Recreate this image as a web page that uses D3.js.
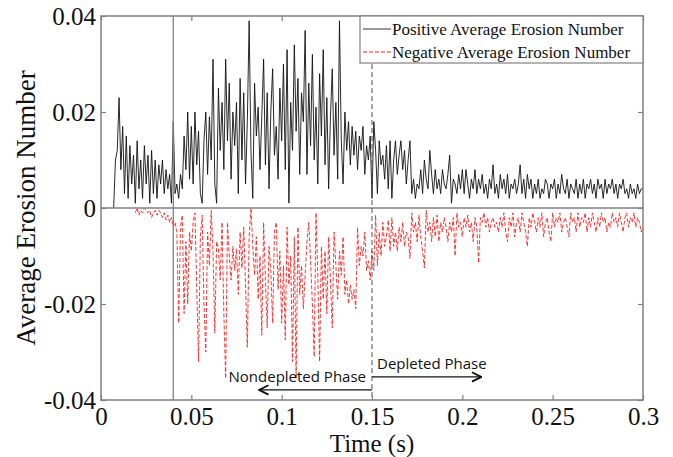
<!DOCTYPE html>
<html>
<head>
<meta charset="utf-8">
<script src="https://cdn.jsdelivr.net/npm/d3@7"></script>
<style>
  body { margin: 0; background: #fff; }
  .serif { font-family: "Liberation Serif", "Times New Roman", Times, serif; }
  .sans { font-family: "Open Sans", "Noto Sans", sans-serif; }
</style>
</head>
<body>
<div id="chart"></div>
<script>
"use strict";

// == DATA (values in units of 0.001, one sample every 0.001 s) ==
var sampleStep = 0.001;
var posStart = 0.007;
var posValues = [
  0, 10, 12, 23, 8, 17, 3, 15, 2, 13,
  5, 11, 1, 14, 4, 10, 2, 13, 5, 11,
  1, 12, 3, 10, 2, 9, 5, 10, 3, 8,
  4, 7, 1, 18, 3, 5, 2, 7, 4, 15,
  8, 20, 6, 17, 5, 20, 9, 16, 3, 1,
  14, 20, 7, 19, 10, 31, 5, 1, 25, 12,
  22, 8, 31, 14, 26, 6, 20, 13, 22, 3,
  27, 10, 24, 5, 18, 39, 12, 2, 26, 15,
  21, 8, 19, 31, 9, 24, 4, 20, 29, 11,
  17, 6, 25, 14, 30, 8, 33, 1, 22, 12,
  34, 16, 27, 7, 24, 18, 37, 7, 26, 13,
  32, 10, 21, 5, 28, 15, 33, 9, 23, 4,
  19, 29, 11, 22, 6, 39, 14, 5, 20, 12,
  18, 9, 17, 11, 16, 8, 15, 12, 17, 7,
  13, 10, 15, 2, 18, 12, 3, 14, 9, 11,
  6, 13, 4, 14, 2, 10, 14, 7, 11, 14,
  8, 12, 5, 10, 14, 3, 6, 2, 5, 4,
  8, 3, 10, 6, 4, 12, 7, 3, 8, 4,
  6, 3, 8, 5, 4, 7, 11, 1, 6, 5,
  3, 7, 4, 8, 3, 8, 5, 2, 6, 4,
  8, 3, 6, 4, 7, 3, 5, 2, 6, 4,
  9, 3, 5, 2, 7, 4, 6, 3, 7, 2,
  5, 4, 6, 3, 5, 9, 3, 6, 2, 7,
  4, 6, 2, 5, 3, 6, 2, 4, 3, 6,
  5, 2, 5, 4, 6, 2, 5, 3, 7, 4,
  3, 6, 2, 5, 4, 3, 6, 2, 5, 3,
  6, 2, 5, 4, 6, 3, 5, 2, 6, 4,
  5, 2, 6, 3, 5, 4, 6, 3, 5, 2,
  5, 4, 6, 3, 4, 2, 5, 3, 4, 2,
  5, 3, 4, 4
];

var negStart = 0.019;
var negValues = [
  -1, 0, -1.5, -0.5, -1, 0, -0.5, -1, -0.5, -2,
  -1, -0.5, -1.5, -0.5, -1, -2, -1, -2.5, -1.5, -3,
  -2, -4, -3, -5, -24, -4, -1.5, -22, -7, -20,
  -5, -9, -3, -1, -17, -32, -6, -1.5, -20, -30,
  -5, -12, -0.5, -9, -26, -7, -8.5, -15, -3, -22,
  -35.5, -3, -10, -15, -8, -13, -8.5, -18, -5, -12.5,
  -4, -16, -29, -6, 0, -8, -14, -6, -19, -10,
  -26.5, -3, -15, -25, -8, -13, -24, -5, -3, -17,
  -9, -24, -12, -27.5, -4, -16, -10, -32, -6, -35.5,
  -4, -18, -12, -21, -14, -7, -3, -11, -20, -31,
  -1, -14, -32, -8, -19, -9, -22, -6, -15, -25,
  -5, -12, -19, -9, -14, -6, -18, -15, -20, -16,
  -19, -17, -21, -4, -12, -8, -10, -5, -13, -11,
  -15, -9, -13, -1.5, -12, -5, -10, -3, -8, -6,
  -2.5, -9, -2, -8, -5, -9, -4, -7, -3, -8,
  -5, -6, -10.5, -1, -5, -3, -7, -1.5, -6, -9,
  -12.5, -0.5, -5, -3, -7, -2, -6, -1.5, -7, -3,
  -5, -2, -4, -7, -3, -5, -2, -10, -1, -4,
  -3, -6, -2, -4, -1.5, -5, -3, -7, -2, -4,
  -11.5, -2, -3, -1, -4, -2, -5, -3, -2, -4,
  -3, -5, -2, -4, -1, -5, -7, -2, -4, -1,
  -6, -3, -2, -5, -1, -3, -5, -8, -2, -4,
  -1, -3, -5, -2, -4, -1, -6, -3, -2, -5,
  -7, -1, -4, -2, -3, -1, -5, -3, -2, -4,
  -6, -1, -3, -2, -5, -1, -4, -2, -3, -1,
  -5, -2, -4, -1, -3, -5, -2, -4, -1, -3,
  -2, -5, -3, -4, -1, -3, -2, -4, -1, -3,
  -5, -2, -1, -4, -2, -3, -1, -4, -2, -3,
  -5, -4
];

var xTicks = [0, 0.05, 0.1, 0.15, 0.2, 0.25, 0.3];
var xTickLabels = ["0", "0.05", "0.1", "0.15", "0.2", "0.25", "0.3"];
var yTicks = [-0.04, -0.02, 0, 0.02, 0.04];
var yTickLabels = ["-0.04", "-0.02", "0", "0.02", "0.04"];
var seriesNames = ["Positive Average Erosion Number", "Negative Average Erosion Number"];
var markerTimes = [0.04, 0.15];
var phaseNames = ["Nondepleted Phase", "Depleted Phase"];
var phaseArrowEnds = [0.0875, 0.2105];

// == BOILERPLATE ==
var W = 673, H = 457;
var margin = { top: 16, right: 30, bottom: 57, left: 101 },
    width = W - margin.left - margin.right,
    height = H - margin.top - margin.bottom;

var svg = d3.select("#chart")
  .append("svg")
  .attr("width", W)
  .attr("height", H);

var g = svg.append("g")
  .attr("transform", "translate(" + margin.left + "," + margin.top + ")");

var x = d3.scaleLinear().domain([0, 0.3]).range([0, width]);
var y = d3.scaleLinear().domain([-0.04, 0.04]).range([height, 0]);

var frameColor = "#808080";

function toPoints(start, vals) {
  return vals.map(function (v, i) {
    return { t: start + i * sampleStep, v: v / 1000 };
  });
}
var posData = toPoints(posStart, posValues);
var negData = toPoints(negStart, negValues);

var line = d3.line()
  .x(function (d) { return x(d.t); })
  .y(function (d) { return y(d.v); });

// == SERIES ==
g.append("path")
  .datum(posData)
  .attr("d", line)
  .attr("fill", "none")
  .attr("stroke", "#111")
  .attr("stroke-width", 0.9);

g.append("path")
  .datum(negData)
  .attr("d", line)
  .attr("fill", "none")
  .attr("stroke", "#ff2020")
  .attr("stroke-width", 0.9)
  .attr("stroke-dasharray", "4,2");

// zero line
g.append("line")
  .attr("x1", 0).attr("x2", width)
  .attr("y1", y(0)).attr("y2", y(0))
  .attr("stroke", frameColor)
  .attr("stroke-width", 1.5);

// phase markers
g.append("line")
  .attr("x1", x(markerTimes[0])).attr("x2", x(markerTimes[0]))
  .attr("y1", 0).attr("y2", height)
  .attr("stroke", frameColor)
  .attr("stroke-width", 1.3);

g.append("line")
  .attr("x1", x(markerTimes[1])).attr("x2", x(markerTimes[1]))
  .attr("y1", 0).attr("y2", height)
  .attr("stroke", "#555")
  .attr("stroke-width", 1)
  .attr("stroke-dasharray", "5,3");

// == AXES (ticks inward on all four sides) ==
function styleAxis(sel) {
  sel.attr("font-family", null).attr("font-size", null);
  sel.select(".domain").remove();
  sel.selectAll("line").attr("stroke", frameColor).attr("stroke-width", 1.2);
  sel.selectAll("text")
    .attr("class", "serif")
    .style("font-size", "25px")
    .attr("fill", "#111");
}

g.append("g")
  .attr("transform", "translate(0," + height + ")")
  .call(d3.axisBottom(x).tickValues(xTicks)
    .tickFormat(function (d, i) { return xTickLabels[i]; })
    .tickSizeInner(-5).tickPadding(7))
  .call(styleAxis);

g.append("g")
  .call(d3.axisLeft(y).tickValues(yTicks)
    .tickFormat(function (d, i) { return yTickLabels[i]; })
    .tickSizeInner(-5).tickPadding(5))
  .call(styleAxis);

g.append("g")
  .call(d3.axisTop(x).tickValues(xTicks).tickFormat("").tickSizeInner(-5))
  .call(styleAxis);

g.append("g")
  .attr("transform", "translate(" + width + ",0)")
  .call(d3.axisRight(y).tickValues(yTicks).tickFormat("").tickSizeInner(-5))
  .call(styleAxis);

g.append("rect")
  .attr("width", width).attr("height", height)
  .attr("fill", "none")
  .attr("stroke", frameColor)
  .attr("stroke-width", 1.5);

// axis titles
svg.append("text")
  .attr("class", "serif")
  .attr("x", margin.left + x(0.15))
  .attr("y", 452)
  .attr("text-anchor", "middle")
  .style("font-size", "25px")
  .attr("fill", "#111")
  .text("Time (s)");

svg.append("text")
  .attr("class", "serif")
  .attr("transform", "translate(35," + (margin.top + height / 2) + ") rotate(-90)")
  .attr("text-anchor", "middle")
  .style("font-size", "27px")
  .attr("fill", "#111")
  .text("Average Erosion Number");

// == LEGEND ==
var legend = g.append("g")
  .attr("transform", "translate(" + (width - 283) + ",0)");

legend.append("rect")
  .attr("width", 283).attr("height", 47)
  .attr("fill", "#fff")
  .attr("stroke", frameColor)
  .attr("stroke-width", 1.2);

legend.selectAll("line.key")
  .data(seriesNames)
  .enter()
  .append("line")
  .attr("class", "key")
  .attr("x1", 3).attr("x2", 31)
  .attr("y1", function (d, i) { return 13 + i * 23; })
  .attr("y2", function (d, i) { return 13 + i * 23; })
  .attr("stroke", function (d, i) { return i === 0 ? "#333" : "#ff2020"; })
  .attr("stroke-width", 1)
  .attr("stroke-dasharray", function (d, i) { return i === 0 ? null : "4,2"; });

legend.selectAll("text.key")
  .data(seriesNames)
  .enter()
  .append("text")
  .attr("class", "serif")
  .attr("x", 32)
  .attr("y", function (d, i) { return 19 + i * 23; })
  .style("font-size", "17px")
  .attr("fill", "#111")
  .text(function (d) { return d; });

// == PHASE ANNOTATIONS ==
var arrowY = [y(-0.0379), y(-0.0352)];

svg.append("defs").append("marker")
  .attr("id", "head")
  .attr("viewBox", "0 0 10 10")
  .attr("refX", 9).attr("refY", 5)
  .attr("markerWidth", 9).attr("markerHeight", 9)
  .attr("orient", "auto-start-reverse")
  .append("path")
  .attr("d", "M1,1 L9,5 L1,9")
  .attr("fill", "none")
  .attr("stroke", "#111")
  .attr("stroke-width", 1.6);

phaseNames.forEach(function (name, i) {
  g.append("line")
    .attr("x1", x(markerTimes[1])).attr("x2", x(phaseArrowEnds[i]))
    .attr("y1", arrowY[i]).attr("y2", arrowY[i])
    .attr("stroke", "#111")
    .attr("stroke-width", 1.3)
    .attr("marker-end", "url(#head)");

  g.append("text")
    .attr("class", "sans")
    .attr("x", i === 0 ? x(markerTimes[1]) - 6 : x(markerTimes[1]) + 5)
    .attr("y", arrowY[i] - 8)
    .attr("text-anchor", i === 0 ? "end" : "start")
    .style("font-size", "15px")
    .attr("fill", "#111")
    .text(name);
});
</script>
</body>
</html>
